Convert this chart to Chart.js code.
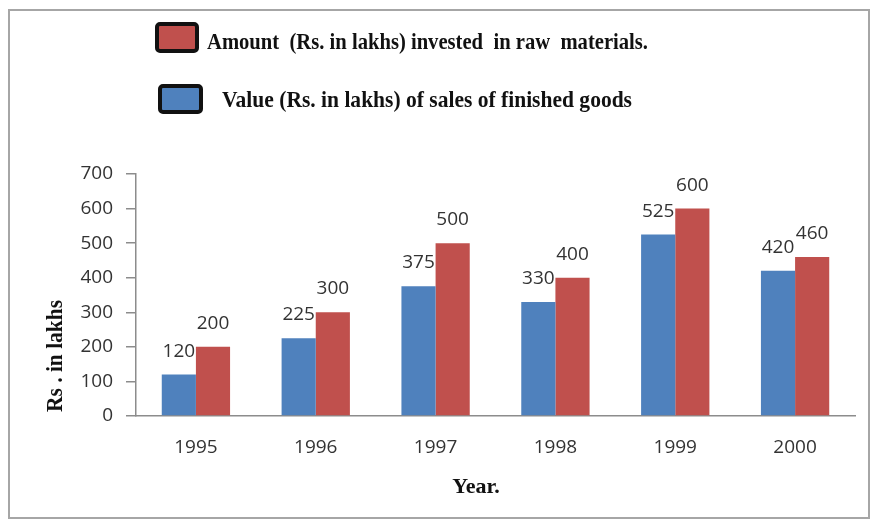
<!DOCTYPE html>
<html>
<head>
<meta charset="utf-8">
<script src="https://cdn.jsdelivr.net/npm/chart.js@4.4.1/dist/chart.umd.min.js"></script>
<style>
  body { margin: 0; background: #ffffff; }
  #wrap { width: 872px; height: 522px; }
</style>
</head>
<body>
<div id="wrap"><canvas id="investChart" width="872" height="522"></canvas></div>
<script>
// Data
var years = ["1995", "1996", "1997", "1998", "1999", "2000"];
var salesValues = [120, 225, 375, 330, 525, 420];
var rawMaterialValues = [200, 300, 500, 400, 600, 460];
var salesLabel = "Value (Rs. in lakhs) of sales of finished goods";
var rawLabel = "Amount  (Rs. in lakhs) invested  in raw  materials.";
var yTitle = "Rs . in lakhs";
var xTitle = "Year.";

var blue = "#4f81bd";
var red = "#c0504d";
var textGrey = "#333333";
var axisGrey = "#8c8c8c";

// Value labels above bars
var valueLabels = {
  id: "valueLabels",
  afterDatasetsDraw: function (chart) {
    var ctx = chart.ctx;
    ctx.save();
    ctx.font = "19px 'Open Sans'";
    ctx.fillStyle = textGrey;
    ctx.textAlign = "center";
    ctx.textBaseline = "alphabetic";
    chart.data.datasets.forEach(function (ds, i) {
      chart.getDatasetMeta(i).data.forEach(function (bar, j) {
        ctx.fillText(ds.data[j], bar.x, bar.y - 18);
      });
    });
    ctx.restore();
  },
};

// Frame, legend boxes, axis titles
var decorations = {
  id: "decorations",
  afterDraw: function (chart) {
    var ctx = chart.ctx;
    ctx.save();

    // outer frame
    ctx.strokeStyle = "#a6a6a6";
    ctx.lineWidth = 2;
    ctx.strokeRect(9, 10, 860, 508);

    // legend boxes
    function box(x, y, w, h, fill) {
      ctx.beginPath();
      ctx.roundRect(x, y, w, h, 3);
      ctx.fillStyle = fill;
      ctx.fill();
      ctx.lineWidth = 4;
      ctx.strokeStyle = "#111111";
      ctx.stroke();
    }
    box(157, 24, 40, 27, red);
    box(160, 86, 41, 26, blue);

    ctx.fillStyle = "#111111";
    ctx.font = "bold 24px 'Liberation Serif'";
    ctx.textAlign = "left";
    ctx.textBaseline = "alphabetic";
    ctx.fillText(rawLabel, 207, 49, 441);
    ctx.fillText(salesLabel, 222, 107, 410);

    // x title
    ctx.textAlign = "center";
    ctx.font = "bold 22px 'Liberation Serif'";
    ctx.fillText(xTitle, 476, 493, 49);

    // y title
    ctx.font = "bold 23px 'Liberation Serif'";
    ctx.translate(62, 356);
    ctx.rotate(-Math.PI / 2);
    ctx.fillText(yTitle, 0, 0, 112);

    ctx.restore();
  },
};

var ctx = document.getElementById("investChart").getContext("2d");
var data = {
  labels: years,
  datasets: [
    {
      label: salesLabel,
      data: salesValues,
      backgroundColor: blue,
      borderWidth: 0,
    },
    {
      label: rawLabel,
      data: rawMaterialValues,
      backgroundColor: red,
      borderWidth: 0,
    },
  ],
};
var options = {
  responsive: false,
  animation: false,
  layout: {
    padding: { top: 174, right: 17, bottom: 0, left: 0 },
  },
  categoryPercentage: 0.57,
  barPercentage: 1,
  plugins: {
    legend: { display: false },
    tooltip: { enabled: false },
  },
  scales: {
    x: {
      afterFit: function (scale) {
        scale.height = 106;
      },
      ticks: {
        color: textGrey,
        font: { family: "'Open Sans'", size: 19 },
        padding: 20,
      },
      grid: { display: false, drawTicks: false },
      border: { display: true, color: axisGrey, width: 1.5 },
    },
    y: {
      min: 0,
      max: 700,
      afterFit: function (scale) {
        scale.width = 136;
      },
      ticks: {
        stepSize: 100,
        color: textGrey,
        font: { family: "'Open Sans'", size: 19 },
        padding: 13,
      },
      grid: {
        drawOnChartArea: false,
        drawTicks: true,
        tickLength: 10,
        color: axisGrey,
        lineWidth: 1.5,
      },
      border: { display: true, color: axisGrey, width: 1.5 },
    },
  },
};
var investChart = new Chart(ctx, {
  type: "bar",
  data: data,
  options: options,
  plugins: [valueLabels, decorations],
});
</script>
</body>
</html>
